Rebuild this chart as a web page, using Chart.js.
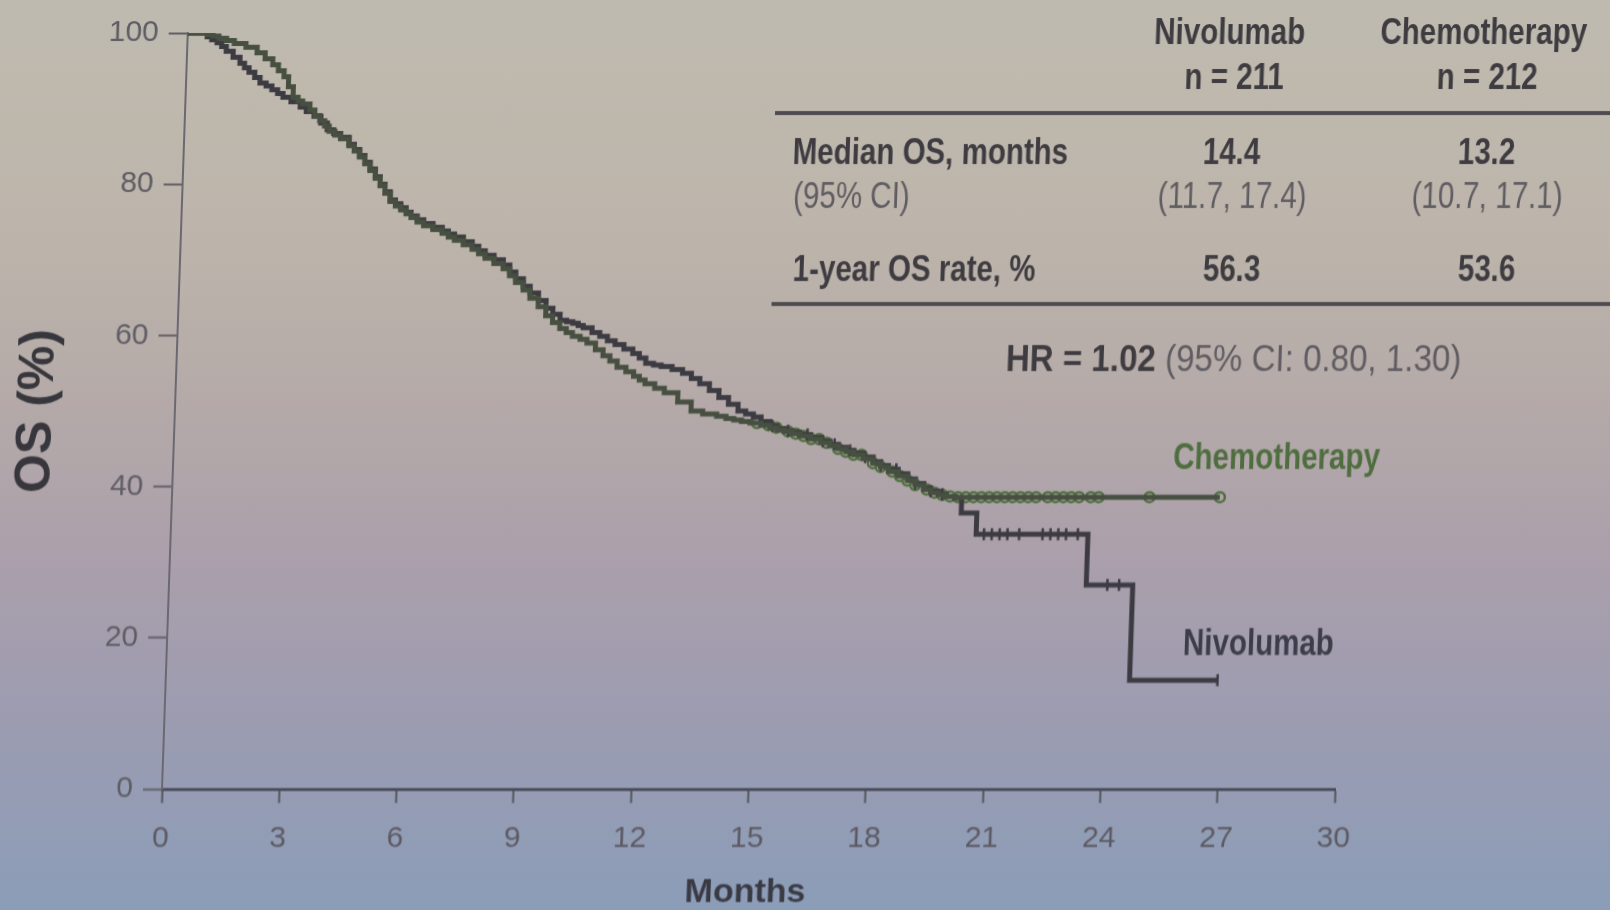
<!DOCTYPE html>
<html>
<head>
<meta charset="utf-8">
<title>Overall survival</title>
<script src="https://cdn.jsdelivr.net/npm/chart.js@4.4.1/dist/chart.umd.min.js"></script>
<style>
  html, body { margin: 0; padding: 0; overflow: hidden; }
  body {
    width: 1610px;
    height: 910px;
    background: linear-gradient(180deg, #bfbaaf 0%, #bdb5ab 25%, #b4a9a8 45%, #aa9fab 62%, #9b9cb1 80%, #8b9db8 100%);
  }
  /* slide was shot at a slight angle */
  #chart { display: block; transform: skewX(-1.95deg); transform-origin: 162px 789px; }
</style>
</head>
<body>
<canvas id="chart" width="1610" height="910"></canvas>
<script>
// Axis ticks
var xTicks = [0, 3, 6, 9, 12, 15, 18, 21, 24, 27, 30];
var yTicks = [0, 20, 40, 60, 80, 100];

// Kaplan-Meier steps (months, OS %)
var nivoMonths = [0, 0.5, 0.62, 0.76, 0.88, 1.0, 1.18, 1.36, 1.48, 1.6, 1.75, 1.89, 2.05, 2.2, 2.35, 2.49, 2.7, 2.94, 3.1, 3.3,
  3.48, 3.65, 3.82, 4.0, 4.22, 4.36, 4.5, 4.64, 4.78, 4.92, 5.05, 5.18, 5.32, 5.46, 5.6, 5.74, 5.87, 6.03, 6.2, 6.44,
  6.68, 6.84, 7.0, 7.23, 7.46, 7.63, 7.8, 8.03, 8.27, 8.44, 8.6, 8.8, 8.98, 9.2, 9.4, 9.58, 9.77, 9.94, 10.1, 10.24,
  10.37, 10.6, 10.8, 11.0, 11.2, 11.43, 11.66, 11.83, 12.0, 12.2, 12.4, 12.68, 12.95, 13.18, 13.4, 13.65, 13.9, 14.15, 14.4, 14.6,
  14.8, 15.0, 15.23, 15.42, 15.6, 15.8, 16.0, 16.28, 16.55, 16.78, 17.0, 17.2, 17.4, 17.65, 17.9, 18.1, 18.3, 18.55, 18.8, 19.0,
  19.22, 19.4, 19.6, 19.8, 20.03, 20.2, 20.6, 23.46, 24.65, 26.9];
var nivoSurvival = [100, 99.5, 99.1, 98.7, 98.2, 97.6, 96.8, 96.0, 95.4, 94.8, 94.1, 93.4, 93.0, 92.5, 92.0, 91.5, 90.9, 90.2, 89.6, 89.0,
  88.1, 87.2, 86.7, 86.2, 85.3, 84.6, 83.8, 82.9, 82.0, 81.0, 80.0, 79.0, 77.9, 77.4, 76.9, 76.3, 75.8, 75.3, 74.8, 74.3,
  73.8, 73.4, 73.0, 72.4, 71.8, 71.2, 70.6, 70.0, 69.3, 68.4, 67.5, 66.5, 65.6, 64.6, 63.6, 62.8, 62.0, 61.8, 61.6, 61.3,
  61.0, 60.4, 59.9, 59.3, 58.8, 58.2, 57.6, 57.0, 56.3, 56.1, 55.9, 55.5, 55.0, 54.3, 53.6, 52.7, 51.8, 50.9, 50.0, 49.6,
  49.2, 48.6, 48.0, 47.7, 47.4, 47.2, 46.9, 46.5, 46.0, 45.6, 45.2, 44.8, 44.4, 43.9, 43.3, 42.8, 42.3, 41.7, 41.0, 40.4,
  39.8, 39.4, 39.0, 38.7, 38.5, 36.5, 33.7, 27.0, 14.4, 14.4];

var chemoMonths = [0, 0.5, 0.65, 0.8, 1.0, 1.2, 1.5, 1.79, 2.0, 2.2, 2.35, 2.5, 2.62, 2.75, 2.88, 3.0, 3.19, 3.32, 3.45, 3.58,
  3.7, 3.85, 4.0, 4.22, 4.36, 4.5, 4.64, 4.78, 4.92, 5.05, 5.18, 5.32, 5.46, 5.6, 5.74, 5.87, 6.03, 6.2, 6.44, 6.68,
  6.84, 7.0, 7.23, 7.46, 7.63, 7.8, 8.03, 8.27, 8.44, 8.6, 8.8, 8.98, 9.2, 9.4, 9.58, 9.77, 9.94, 10.1, 10.3, 10.48,
  10.7, 10.9, 11.08, 11.27, 11.5, 11.7, 11.85, 12.0, 12.25, 12.5, 12.85, 13.2, 13.5, 13.86, 14.1, 14.3, 14.5, 14.72, 15.0, 15.23,
  15.42, 15.6, 15.8, 16.0, 16.28, 16.55, 16.78, 17.0, 17.2, 17.4, 17.65, 17.9, 18.1, 18.3, 18.55, 18.8, 19.0, 19.22, 19.4, 19.6,
  19.8, 20.03, 26.8];
var chemoSurvival = [100, 99.8, 99.6, 99.3, 99.0, 98.6, 98.1, 97.4, 96.6, 95.8, 95.0, 94.2, 92.9, 91.5, 91.0, 90.6, 89.8, 89.1, 88.4, 87.7,
  87.0, 86.5, 86.0, 85.1, 84.4, 83.6, 82.7, 81.8, 80.8, 79.8, 78.8, 77.7, 77.1, 76.6, 76.1, 75.6, 75.0, 74.5, 74.0, 73.5,
  73.0, 72.6, 72.0, 71.4, 70.8, 70.2, 69.5, 68.8, 67.9, 67.0, 66.0, 64.9, 63.8, 62.6, 61.7, 60.9, 60.4, 59.9, 59.5, 59.0,
  58.1, 57.3, 56.6, 55.8, 55.2, 54.6, 54.1, 53.6, 53.0, 52.4, 51.2, 50.0, 49.6, 49.3, 49.0, 48.8, 48.6, 48.4, 48.1, 47.8,
  47.5, 47.3, 47.0, 46.7, 46.3, 45.8, 45.4, 45.0, 44.6, 44.2, 43.7, 43.1, 42.6, 42.0, 41.4, 40.8, 40.2, 39.6, 39.2, 38.9,
  38.7, 38.6, 38.6];

// Censored patients (months)
var nivoCensored = [15.3, 15.7, 16.2, 16.6, 16.9, 17.3, 17.7, 18.1, 18.5, 19.0, 19.4, 19.7, 20.8, 21.0, 21.2, 21.4, 21.7,
  22.3, 22.5, 22.7, 22.9, 23.2, 24.0, 24.3, 26.9];
var chemoCensored = [14.9, 15.2, 15.4, 15.7, 15.9, 16.1, 16.3, 16.5, 16.7, 17.0, 17.2, 17.4, 17.6, 17.9, 18.1, 18.4, 18.6,
  18.8, 19.0, 19.3, 19.5, 19.7, 19.9, 20.1, 20.3, 20.5, 20.7, 20.9, 21.1, 21.3, 21.5, 21.7, 21.9, 22.1, 22.4, 22.6, 22.8,
  23.0, 23.2, 23.5, 23.7, 25.0, 26.8];

// Summary table
var armNames = ['Nivolumab', 'Chemotherapy'];
var armN = ['n = 211', 'n = 212'];
var medianOS = ['14.4', '13.2'];
var medianCI = ['(11.7, 17.4)', '(10.7, 17.1)'];
var oneYearRate = ['56.3', '53.6'];
var hrBold = 'HR = 1.02';
var hrRest = ' (95% CI: 0.80, 1.30)';

var FONT = "'Liberation Sans', Arial, sans-serif";
var NARROW = 0.82; // squeeze for the condensed slide type
var NIVO_COLOR = '#3c3b42';
var CHEMO_COLOR = '#464f40';
var CHEMO_MARK = '#4f6e3f';

function toPoints(months, values) {
  return months.map(function (m, i) {
    return { x: m, y: values[i] };
  });
}

// value of a step curve at time t
function survivalAt(months, values, t) {
  var v = values[0];
  for (var i = 0; i < months.length; i++) {
    if (months[i] <= t) v = values[i];
  }
  return v;
}

function censorPoints(times, months, values) {
  return times.map(function (t) {
    return { x: t, y: survivalAt(months, values, t) };
  });
}

var tablePlugin = {
  id: 'tablePlugin',
  afterDraw: function (chart) {
    var ctx = chart.ctx;
    ctx.save();
    ctx.textBaseline = 'middle';

    function text(str, x, y, weight, color, align, squeeze) {
      ctx.font = weight + ' 36px ' + FONT;
      ctx.fillStyle = color;
      ctx.textAlign = align;
      ctx.save();
      ctx.translate(x, y);
      ctx.scale(squeeze || NARROW, 1);
      ctx.fillText(str, 0, 0);
      ctx.restore();
    }

    var dark = '#3e3c40';
    var light = '#5f5c62';
    var colX = [1208, 1463];

    text(armNames[0], colX[0] - 4, 34, 'bold', dark, 'center');
    text(armNames[1], colX[1] - 5, 34, 'bold', dark, 'center');
    text(armN[0], colX[0] + 2, 79, 'bold', dark, 'center');
    text(armN[1], colX[1], 79, 'bold', dark, 'center');

    ctx.strokeStyle = '#4d4b50';
    ctx.lineWidth = 4;
    ctx.beginPath();
    ctx.moveTo(752, 113);
    ctx.lineTo(1640, 113);
    ctx.moveTo(755, 304);
    ctx.lineTo(1640, 304);
    ctx.stroke();

    text('Median OS, months', 771, 154, 'bold', dark, 'left');
    text('(95% CI)', 773, 198, 'normal', light, 'left');
    text('1-year OS rate, %', 775, 271, 'bold', dark, 'left');
    for (var i = 0; i < 2; i++) {
      text(medianOS[i], colX[i] + 2, 154, 'bold', dark, 'center');
      text(medianCI[i], colX[i] + 4, 198, 'normal', light, 'center');
      text(oneYearRate[i], colX[i] + 6, 271, 'bold', dark, 'center');
    }

    // hazard ratio, bold lead then regular
    var hrSqueeze = 0.92;
    ctx.font = 'bold 36px ' + FONT;
    var w1 = ctx.measureText(hrBold).width * hrSqueeze;
    ctx.font = 'normal 36px ' + FONT;
    var w2 = ctx.measureText(hrRest).width * hrSqueeze;
    var hx = 1219 - (w1 + w2) / 2;
    text(hrBold, hx, 361, 'bold', dark, 'left', hrSqueeze);
    text(hrRest, hx + w1, 361, 'normal', light, 'left', hrSqueeze);

    // curve labels
    text('Chemotherapy', 1162, 459, 'bold', CHEMO_MARK, 'left');
    text('Nivolumab', 1178, 645, 'bold', '#3d3d4a', 'left');

    ctx.restore();
  }
};

var ctx = document.getElementById('chart').getContext('2d');
var chart = new Chart(ctx, {
  type: 'line',
  data: {
    datasets: [
      {
        label: 'Chemotherapy',
        data: toPoints(chemoMonths, chemoSurvival),
        borderColor: CHEMO_COLOR,
        borderWidth: 5,
        stepped: true,
        pointRadius: 0,
        fill: false
      },
      {
        label: 'Nivolumab',
        data: toPoints(nivoMonths, nivoSurvival),
        borderColor: NIVO_COLOR,
        borderWidth: 5,
        stepped: true,
        pointRadius: 0,
        fill: false
      },
      {
        label: 'Nivolumab censored',
        data: censorPoints(nivoCensored, nivoMonths, nivoSurvival),
        showLine: false,
        pointStyle: 'line',
        rotation: 90,
        pointRadius: 6,
        pointBorderWidth: 2.5,
        pointBorderColor: NIVO_COLOR
      },
      {
        label: 'Chemotherapy censored',
        data: censorPoints(chemoCensored, chemoMonths, chemoSurvival),
        showLine: false,
        pointStyle: 'circle',
        pointRadius: 5,
        pointBorderWidth: 2.5,
        pointBorderColor: CHEMO_MARK,
        pointBackgroundColor: 'rgba(0,0,0,0)'
      }
    ]
  },
  options: {
    responsive: false,
    animation: false,
    layout: { padding: { left: 0, right: 275, top: 33, bottom: 0 } },
    plugins: {
      legend: { display: false },
      tooltip: { enabled: false }
    },
    scales: {
      x: {
        type: 'linear',
        min: 0,
        max: 30,
        afterBuildTicks: function (scale) {
          scale.ticks = xTicks.map(function (v) { return { value: v }; });
        },
        afterFit: function (scale) { scale.height = 121; },
        border: { color: '#4a4c5a', width: 3 },
        grid: { drawOnChartArea: false, tickLength: 14, tickColor: '#55565f', tickWidth: 2 },
        ticks: {
          padding: 18,
          color: '#5b5a63',
          font: { family: FONT, size: 30 }
        },
        title: {
          display: true,
          text: 'Months',
          color: '#3a3a44',
          font: { family: FONT, size: 34, weight: 'bold', lineHeight: 1 },
          padding: { top: 0, bottom: 0 }
        }
      },
      y: {
        min: 0,
        max: 100,
        afterBuildTicks: function (scale) {
          scale.ticks = yTicks.map(function (v) { return { value: v }; });
        },
        afterFit: function (scale) { scale.width = 162; },
        border: { color: '#6a6870', width: 2 },
        grid: { drawOnChartArea: false, tickLength: 19, tickColor: '#5e5c63', tickWidth: 2 },
        ticks: {
          padding: 10,
          color: '#5f5d64',
          font: { family: FONT, size: 30 }
        },
        title: {
          display: true,
          text: 'OS (%)',
          color: '#37363c',
          font: { family: FONT, size: 50, weight: 'bold', lineHeight: 1 },
          padding: { top: 0, bottom: 0 }
        }
      }
    }
  },
  plugins: [tablePlugin]
});
</script>
</body>
</html>
